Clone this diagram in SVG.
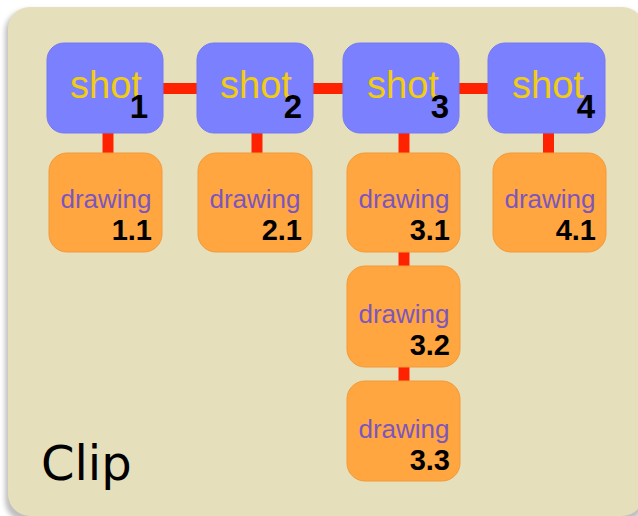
<svg xmlns="http://www.w3.org/2000/svg" width="638" height="516" viewBox="0 0 638 516">
  <defs>
    <filter id="soft" x="-5%" y="-5%" width="110%" height="110%">
      <feGaussianBlur stdDeviation="2.5"/>
    </filter>
    <style>
      .panel { fill: #E6DFBC; }
      .shot rect { fill: #7B80FF; stroke: #7479F2; stroke-width: 1; }
      .drawing rect { fill: #FFA640; stroke: #F29A38; stroke-width: 1; }
      .shot .name { font-family: "Liberation Sans", Arial, sans-serif; font-size: 38px; fill: #F2CD0E; text-anchor: middle; }
      .drawing .name { font-family: "Liberation Sans", Arial, sans-serif; font-size: 26px; fill: #7C56BE; text-anchor: middle; }
      .num { font-family: "Liberation Sans", Arial, sans-serif; font-weight: bold; fill: #000; text-anchor: end; }
      .shot .num { font-size: 33px; }
      .drawing .num { font-size: 29px; }
      .link { stroke: #FF2200; stroke-width: 11; fill: none; }
      .title { font-family: "DejaVu Sans", Verdana, sans-serif; font-size: 48px; fill: #000; }
    </style>
  </defs>

  <rect width="638" height="516" fill="#FFFFFF"/>

  <!-- clip container with soft shadow -->
  <rect x="5" y="10" width="640" height="512" rx="22" fill="#8A8A8A" opacity="0.55" filter="url(#soft)"/>
  <rect class="panel" x="8" y="7" width="636" height="509" rx="22"/>

  <!-- connectors -->
  <g id="connectors">
    <line class="link" x1="163" y1="88.5" x2="197" y2="88.5"/>
    <line class="link" x1="313" y1="88.5" x2="343" y2="88.5"/>
    <line class="link" x1="459" y1="88.5" x2="488" y2="88.5"/>
    <line class="link" x1="108" y1="133" x2="108" y2="153"/>
    <line class="link" x1="257" y1="133" x2="257" y2="153"/>
    <line class="link" x1="404" y1="133" x2="404" y2="153"/>
    <line class="link" x1="548.5" y1="133" x2="548.5" y2="153"/>
    <line class="link" x1="404" y1="252" x2="404" y2="266"/>
    <line class="link" x1="404" y1="367" x2="404" y2="381"/>
  </g>

  <!-- shots -->
  <g id="shot1" class="shot">
    <rect x="47" y="43" width="116" height="90" rx="17"/>
    <text class="name" x="106" y="98">shot</text>
    <text class="num" x="148" y="118">1</text>
  </g>
  <g id="shot2" class="shot">
    <rect x="197" y="43" width="116" height="90" rx="17"/>
    <text class="name" x="256" y="98">shot</text>
    <text class="num" x="302" y="118">2</text>
  </g>
  <g id="shot3" class="shot">
    <rect x="343" y="43" width="116" height="90" rx="17"/>
    <text class="name" x="403" y="98">shot</text>
    <text class="num" x="449" y="118">3</text>
  </g>
  <g id="shot4" class="shot">
    <rect x="488" y="43" width="117" height="90" rx="17"/>
    <text class="name" x="548" y="98">shot</text>
    <text class="num" x="595" y="118">4</text>
  </g>

  <!-- drawings -->
  <g id="drawing1_1" class="drawing">
    <rect x="49" y="153" width="113" height="99" rx="18"/>
    <text class="name" x="106" y="208">drawing</text>
    <text class="num" x="152" y="240">1.1</text>
  </g>
  <g id="drawing2_1" class="drawing">
    <rect x="198" y="153" width="114" height="99" rx="18"/>
    <text class="name" x="255" y="208">drawing</text>
    <text class="num" x="302" y="240">2.1</text>
  </g>
  <g id="drawing3_1" class="drawing">
    <rect x="347" y="153" width="113" height="99" rx="18"/>
    <text class="name" x="404" y="208">drawing</text>
    <text class="num" x="450" y="240">3.1</text>
  </g>
  <g id="drawing4_1" class="drawing">
    <rect x="493" y="153" width="113" height="99" rx="18"/>
    <text class="name" x="550" y="208">drawing</text>
    <text class="num" x="596" y="240">4.1</text>
  </g>
  <g id="drawing3_2" class="drawing">
    <rect x="347" y="266" width="113" height="101" rx="18"/>
    <text class="name" x="404" y="323">drawing</text>
    <text class="num" x="450" y="355">3.2</text>
  </g>
  <g id="drawing3_3" class="drawing">
    <rect x="347" y="381" width="113" height="100" rx="18"/>
    <text class="name" x="404" y="438">drawing</text>
    <text class="num" x="450" y="470">3.3</text>
  </g>

  <text class="title" x="41" y="480">Clip</text>
</svg>
